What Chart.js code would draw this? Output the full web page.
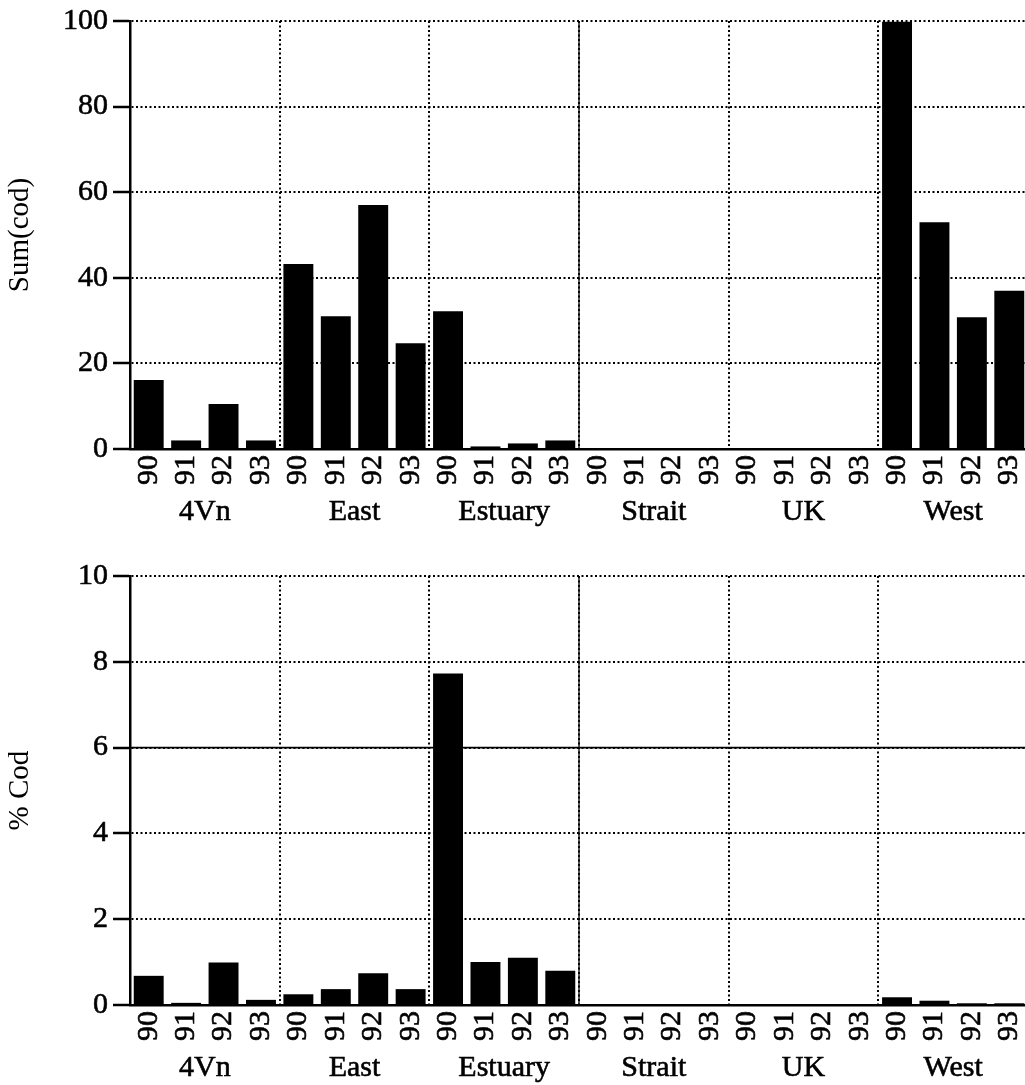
<!DOCTYPE html>
<html>
<head>
<meta charset="utf-8">
<script src="https://cdn.jsdelivr.net/npm/chart.js@4.4.0/dist/chart.umd.min.js"></script>
<style>
  html, body { margin: 0; padding: 0; background: #fff; overflow: hidden; width: 1025px; height: 1085px; }
  .panel { position: absolute; left: 0; }
</style>
</head>
<body>
<div class="panel" style="top:0"><canvas id="sumChart" width="1030" height="545"></canvas></div>
<div class="panel" style="top:545px"><canvas id="pctChart" width="1030" height="540"></canvas></div>
<script>
// Survey areas and years
const areas = ['4Vn', 'East', 'Estuary', 'Strait', 'UK', 'West'];
const years = ['90', '91', '92', '93'];

// Sum of cod caught, one row per area (years 90-93)
const sumCod = [
  16.1, 2.0, 10.5, 2.0,
  43.2, 31.0, 57.0, 24.7,
  32.2, 0.6, 1.3, 2.0,
  0, 0, 0, 0,
  0, 0, 0, 0,
  99.8, 53.0, 30.8, 37.0
];

// Percentage of cod in the catch, same layout
const pctCod = [
  0.68, 0.05, 0.99, 0.12,
  0.25, 0.37, 0.74, 0.37,
  7.73, 1.00, 1.10, 0.80,
  0, 0, 0, 0,
  0, 0, 0, 0,
  0.18, 0.10, 0.04, 0.04
];

// Solid rules drawn over the dotted grid
const solidSeparatorBefore = 12;      // category index where the solid vertical rule sits
const pctSolidLevels = [6];           // solid horizontal rules on the % panel

const serif = { family: '"Liberation Serif", "Times New Roman", serif', size: 30 };
const titleFont = { family: '"Liberation Serif", "Times New Roman", serif', size: 29 };
const ink = { color: '#000', textStrokeColor: '#000', textStrokeWidth: 0.6 };
const yearLabels = [];
areas.forEach(() => years.forEach(y => yearLabels.push(y)));

function solidRules(levels) {
  return {
    id: 'solidRules',
    beforeDatasetsDraw(chart) {
      const { ctx, chartArea } = chart;
      const x = chart.scales.x, y = chart.scales.y;
      ctx.save();
      ctx.strokeStyle = '#000';
      ctx.setLineDash([]);
      const xb = (x.getPixelForValue(solidSeparatorBefore - 1) + x.getPixelForValue(solidSeparatorBefore)) / 2;
      ctx.lineWidth = 1.3;
      ctx.beginPath();
      ctx.moveTo(xb, chartArea.top);
      ctx.lineTo(xb, chartArea.bottom);
      ctx.stroke();
      levels.forEach(v => {
        const py = y.getPixelForValue(v);
        ctx.lineWidth = 1.8;
        ctx.beginPath();
        ctx.moveTo(chartArea.left, py);
        ctx.lineTo(chartArea.right, py);
        ctx.stroke();
      });
      ctx.restore();
    }
  };
}

function makeChart(id, values, yMax, yStep, title, padTop, groupAxisHeight, levels) {
  return new Chart(document.getElementById(id), {
    type: 'bar',
    data: {
      labels: yearLabels,
      datasets: [{
        data: values,
        backgroundColor: '#000',
        borderWidth: 0,
        barPercentage: 0.8,
        categoryPercentage: 1.0,
        xAxisID: 'x',
        yAxisID: 'y'
      }]
    },
    options: {
      responsive: false,
      animation: false,
      devicePixelRatio: 1,
      layout: { padding: { top: padTop, right: 2, left: 0, bottom: 0 } },
      plugins: { legend: { display: false }, tooltip: { enabled: false } },
      scales: {
        x: {
          type: 'category',
          position: 'bottom',
          offset: true,
          grid: {
            display: true,
            offset: true,
            color: c => (c.index > 0 && c.index % 4 === 0) ? '#000' : 'rgba(0,0,0,0)',
            lineWidth: 2,
            drawTicks: false
          },
          border: { display: true, color: '#000', width: 2.5, dash: [2, 2.5] },
          ticks: { font: serif, ...ink, minRotation: 90, maxRotation: 90, autoSkip: false, padding: 6 },
          afterFit: s => { s.height = 45; s.paddingLeft = 0; s.paddingRight = 0; }
        },
        x2: {
          type: 'category',
          labels: areas,
          position: 'bottom',
          offset: true,
          grid: { display: false, drawTicks: false },
          border: { display: false },
          ticks: { font: serif, ...ink, padding: 0, autoSkip: false, maxRotation: 0 },
          afterFit: s => { s.height = groupAxisHeight; s.paddingLeft = 0; s.paddingRight = 0; }
        },
        y: {
          min: 0,
          max: yMax,
          ticks: { stepSize: yStep, font: serif, ...ink, padding: 5 },
          grid: { color: '#000', lineWidth: 2, drawTicks: true, tickLength: 17, tickColor: '#000', tickWidth: 2.5 },
          border: { display: true, color: '#000', width: 2.5, dash: [2, 2.5] },
          title: { display: true, text: title, font: titleFont, color: '#000', padding: { top: 3, bottom: 0 } },
          afterFit: s => { s.width = 130; s.paddingTop = 0; s.paddingBottom = 0; }
        }
      }
    },
    plugins: [solidRules(levels)]
  });
}

makeChart('sumChart', sumCod, 100, 20, 'Sum(cod)', 21, 51, []);
makeChart('pctChart', pctCod, 10, 2, '% Cod', 31, 35, pctSolidLevels);
</script>
</body>
</html>
